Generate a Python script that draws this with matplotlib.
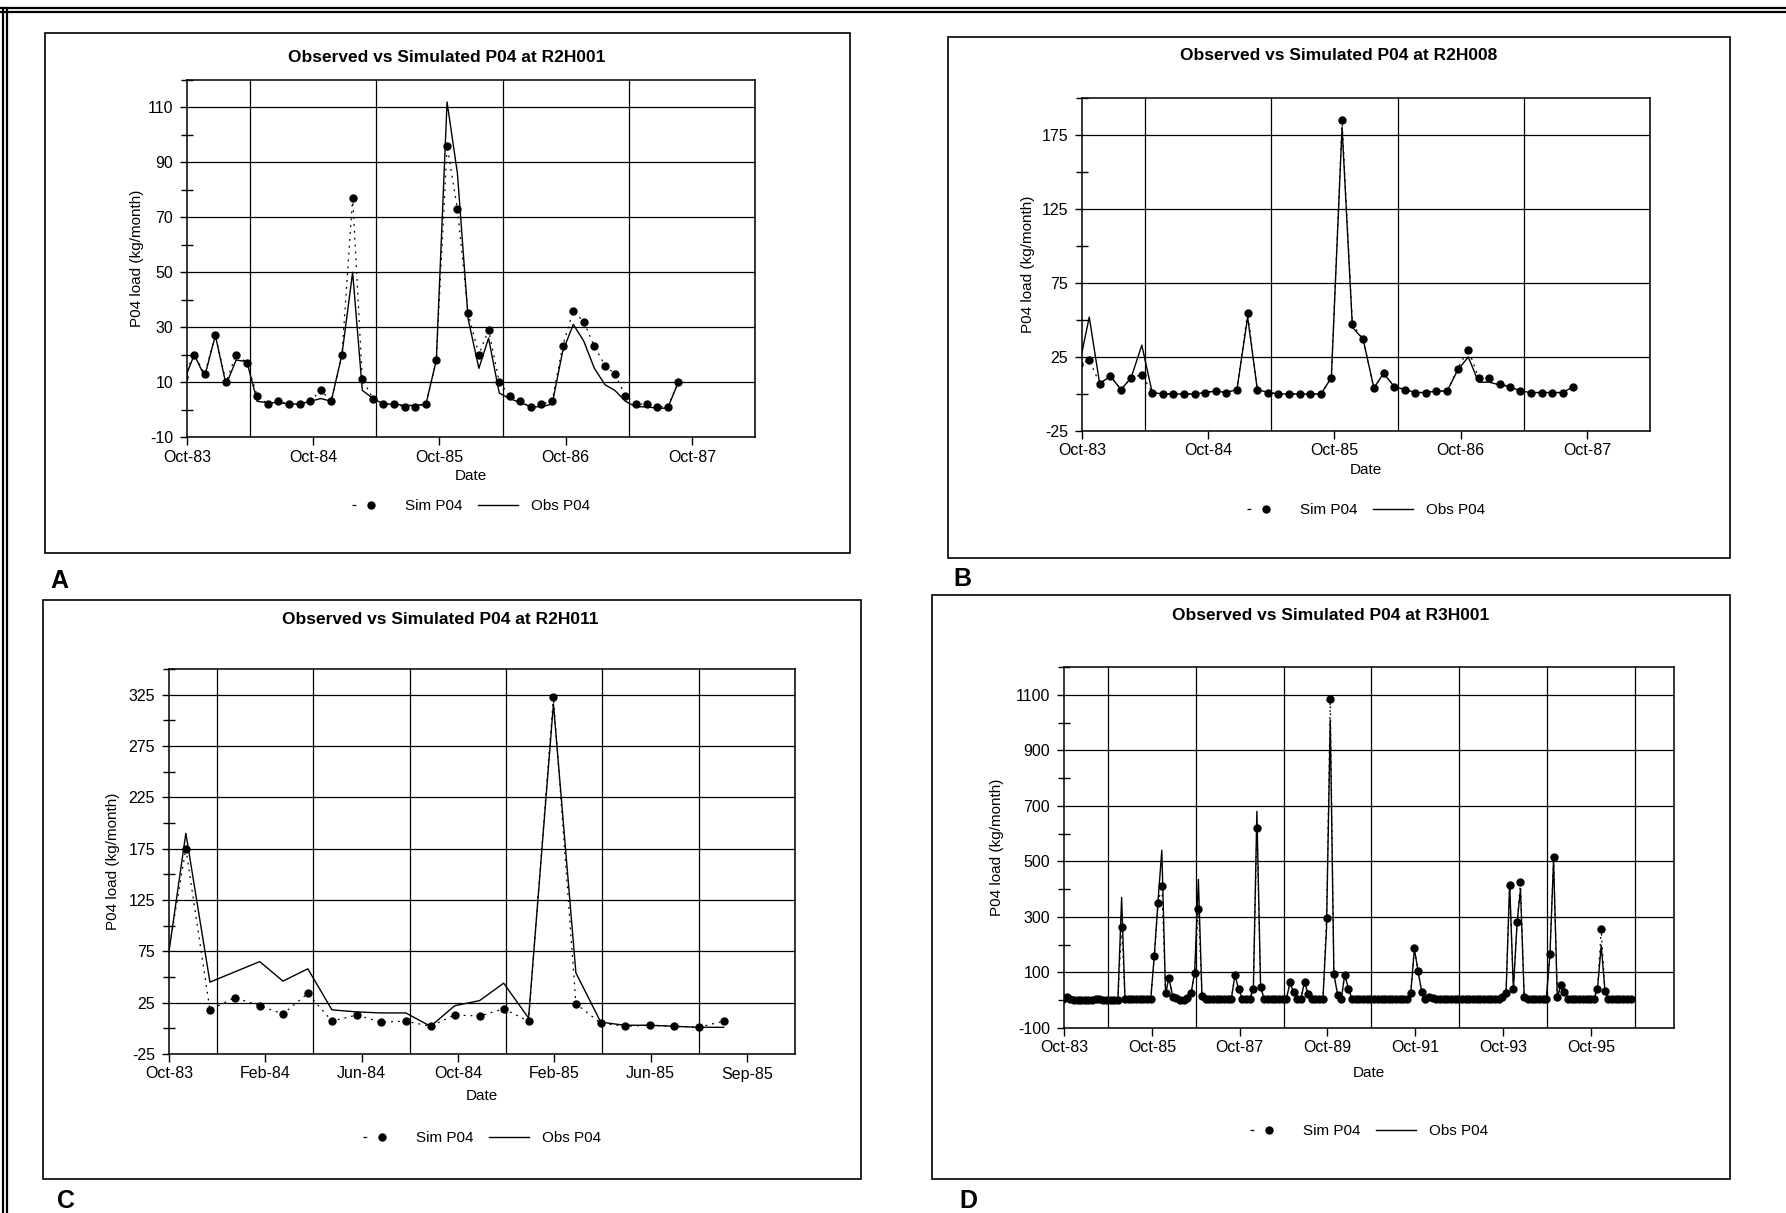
import numpy as np
import pandas as pd
import matplotlib
matplotlib.use("Agg")
import matplotlib.pyplot as plt
import matplotlib.dates as mdates
from matplotlib.lines import Line2D
from matplotlib.patches import Rectangle
from datetime import datetime

plt.rcParams["font.family"] = ["Liberation Sans", "DejaVu Sans"]
plt.rcParams["axes.unicode_minus"] = False

# monthly loads (kg/month); first value is Sep-83, just left of the axis
a_sim = [12, 20, 13, 27, 10, 20, 17, 5, 2, 3, 2, 2, 3, 7, 3, 20, 77, 11, 4, 2, 2, 1, 1, 2, 18,
         96, 73, 35, 20, 29, 10, 5, 3, 1, 2, 3, 23, 36, 32, 23, 16, 13, 5, 2, 2, 1, 1, 10]
a_obs = [10, 20, 12, 27, 9, 18, 17.5, 3, 2.5, 2.5, 2, 2, 3, 4, 3, 20, 50, 7, 4, 2, 2, 1.5, 1.5, 2, 18,
         112, 86, 33, 15, 26, 6, 4, 2.5, 1, 1, 2, 21, 31, 25, 15, 9, 7, 3, 1, 1, 0.5, 0.5, 10]

b_sim = [20, 23, 7, 12, 3, 11, 13, 1, 0, 0, 0, 0, 1, 2, 1, 3, 55, 3, 1, 0, 0, 0, 0, 0, 11,
         185, 47, 37, 4, 14, 5, 3, 1, 1, 2, 2, 17, 30, 11, 11, 7, 5, 2, 1, 1, 1, 1, 5]
b_obs = [17, 52, 7, 12, 3, 11, 33, 1, 0, 0, 0, 0, 1, 2, 1, 3, 52, 3, 1, 0, 0, 0, 0, 0, 11,
         180, 45, 37, 4, 14, 5, 3, 1, 1, 2, 2, 16, 25, 8, 8, 6, 5, 2, 1, 1, 1, 1, 5]

c_sim = [30, 175, 18, 30, 22, 14, 34, 7, 13, 6, 7, 2, 13, 12, 19, 7, 323, 24, 5, 2, 3, 2, 1, 7]
c_obs = [20, 190, 45, 55, 65, 46, 58, 18, 16, 15, 15, 2, 22, 27, 44, 10, 316, 54, 6, 3, 3, 2, 1, 1]

d_sim = [5,
         10, 3, 2, 2, 2, 2, 2, 2, 3, 3, 2, 2,
         2, 2, 2, 265, 5, 3, 3, 3, 3, 3, 3, 3,
         160, 350, 413, 25, 80, 13, 7, 2, 2, 7, 25, 98,
         330, 15, 5, 3, 3, 3, 3, 3, 3, 3, 90, 40,
         5, 3, 3, 42, 620, 48, 5, 5, 3, 3, 3, 3,
         3, 64, 28, 3, 3, 66, 22, 3, 3, 3, 3, 295,
         1085, 95, 20, 5, 92, 42, 5, 3, 3, 3, 3, 3,
         3, 3, 3, 3, 3, 3, 3, 3, 3, 3, 25, 188,
         105, 30, 3, 12, 8, 3, 3, 3, 3, 3, 3, 3,
         3, 3, 3, 3, 3, 3, 3, 3, 5, 5, 5, 10,
         25, 415, 40, 280, 425, 10, 3, 3, 3, 3, 3, 3,
         165, 515, 10, 55, 30, 5, 3, 3, 3, 3, 3, 3,
         5, 40, 255, 35, 3, 3, 3, 3, 3, 3, 3]
d_obs = [5,
         10, 3, 2, 2, 2, 2, 2, 2, 3, 3, 2, 2,
         2, 2, 2, 370, 3, 3, 3, 3, 3, 3, 3, 3,
         170, 360, 540, 25, 80, 15, 8, 2, 2, 7, 25, 100,
         435, 12, 5, 3, 3, 3, 3, 3, 3, 3, 90, 40,
         5, 3, 3, 42, 680, 48, 5, 5, 3, 3, 3, 3,
         3, 64, 28, 3, 3, 66, 22, 3, 3, 3, 3, 260,
         1010, 95, 20, 5, 92, 42, 5, 3, 3, 3, 3, 3,
         3, 3, 3, 3, 3, 3, 3, 3, 3, 3, 25, 185,
         105, 30, 3, 12, 8, 3, 3, 3, 3, 3, 3, 3,
         3, 3, 3, 3, 3, 3, 3, 3, 5, 5, 5, 10,
         25, 420, 40, 280, 400, 10, 3, 3, 3, 3, 3, 3,
         165, 505, 10, 55, 30, 5, 3, 3, 3, 3, 3, 3,
         5, 40, 198, 35, 3, 3, 3, 3, 3, 3, 3]

titles = ["Observed vs Simulated P04 at R2H001", "Observed vs Simulated P04 at R2H008",
          "Observed vs Simulated P04 at R2H011", "Observed vs Simulated P04 at R3H001"]

W, H = 1786, 1213
fig = plt.figure(figsize=(W / 100, H / 100), dpi=100)

origin = mdates.date2num(datetime(1983, 10, 10))


def month_x(vals):
    d = pd.date_range("1983-09-30", periods=len(vals), freq=pd.offsets.MonthEnd())
    return mdates.date2num(d.to_pydatetime())


def add_box(x0, y0, x1, y1, lw=1.2):
    fig.add_artist(Rectangle((x0 / W, 1 - y1 / H), (x1 - x0) / W, (y1 - y0) / H,
                             transform=fig.transFigure, fill=False, lw=lw, ec="black"))


def panel(rect, sim, obs, ylim, ymaj, step, nticks, xend, title, title_xy, leg_y, ylab_x, date_y):
    x0, y0, x1, y1 = rect
    ax = fig.add_axes([x0 / W, 1 - y1 / H, (x1 - x0) / W, (y1 - y0) / H])
    x = month_x(sim)
    ax.plot(x, sim, color="black", lw=0.9, ls=(0, (1.5, 4)), marker="o", ms=5)
    ax.plot(x, obs, color="black", lw=1.0)
    ax.set_xlim(origin, origin + xend)
    ax.set_ylim(*ylim)
    ax.set_xticks(origin + np.arange(nticks) * step)
    ax.set_xticks(origin + step / 2 + np.arange(nticks) * step, minor=True)
    ax.xaxis.set_major_formatter(mdates.DateFormatter("%b-%y"))
    ax.set_yticks(np.arange(ylim[0], ylim[1] + 1, ymaj))
    ax.set_yticks(np.arange(ylim[0] + ymaj / 2, ylim[1] + 1, ymaj), minor=True)
    ax.grid(which="minor", axis="x", color="black", lw=0.9)
    ax.grid(which="major", axis="y", color="black", lw=0.9)
    ax.tick_params(axis="x", which="major", direction="out", length=6, width=1, labelsize=11.5, pad=3)
    ax.tick_params(axis="x", which="minor", length=0)
    ax.tick_params(axis="y", which="major", direction="out", length=5, width=1, labelsize=11.5, pad=5)
    ax.tick_params(axis="y", which="minor", direction="inout", length=8, width=1)
    for s in ax.spines.values():
        s.set_linewidth(1.1)
    ax.set_axisbelow(True)
    fig.text(ylab_x / W, 1 - (y0 + y1) / 2 / H, "P04 load (kg/month)", rotation=90,
             ha="center", va="center", fontsize=11)
    fig.text((x0 + x1) / 2 / W, 1 - date_y / H, "Date", ha="center", va="center", fontsize=11)
    fig.text(title_xy[0] / W, 1 - title_xy[1] / H, title, ha="center", va="center",
             fontsize=12.5, weight="bold")
    # legend: short dash then dot for the simulated series, solid line for observed
    handles = [Line2D([], [], color="black", lw=0.9, ls=(0, (3, 30)), marker="o", ms=5),
               Line2D([], [], color="black", lw=1.0)]
    fig.legend(handles, ["Sim P04", "Obs P04"], loc="center", ncol=2, frameon=False, fontsize=11,
               bbox_to_anchor=((x0 + x1) / 2 / W, 1 - leg_y / H), handlelength=2.6,
               columnspacing=1.0, handletextpad=0.9, numpoints=1)
    return ax


panel((187, 80, 755, 437), a_sim, a_obs, (-10, 120), 20, 365, 5, 1490, titles[0], (447, 57), 506, 137, 476)
panel((1082, 98, 1650, 431), b_sim, b_obs, (-25, 200), 50, 365, 5, 1490, titles[1], (1339, 55), 510, 1028, 470)
panel((169, 669, 795, 1054), c_sim, c_obs, (-25, 350), 50, 120, 7, 764, titles[2], (440, 620), 1138, 113, 1096)
panel((1064, 667, 1674, 1028), d_sim, d_obs, (-100, 1200), 200, 730, 7, 5070, titles[3], (1331, 616), 1131, 997, 1073)

# panel frames
add_box(45, 33, 850, 553)
add_box(948, 37, 1730, 558)
add_box(43, 600, 861, 1179)
add_box(932, 595, 1730, 1179)

# outer double rule (top and left)
for yy in (7.5, 11.5):
    fig.add_artist(Line2D([0, 1], [1 - yy / H] * 2, transform=fig.transFigure, color="black", lw=1.6))
for xx in (3, 7):
    fig.add_artist(Line2D([xx / W] * 2, [0, 1 - 7.5 / H], transform=fig.transFigure, color="black", lw=1.6))

for lab, lx, ly in [("A", 50, 581), ("B", 953, 579), ("C", 57, 1201), ("D", 959, 1201)]:
    fig.text(lx / W, 1 - ly / H, lab, ha="left", va="center", fontsize=18, weight="bold")

fig.savefig("out.png", dpi=100, facecolor="white")
